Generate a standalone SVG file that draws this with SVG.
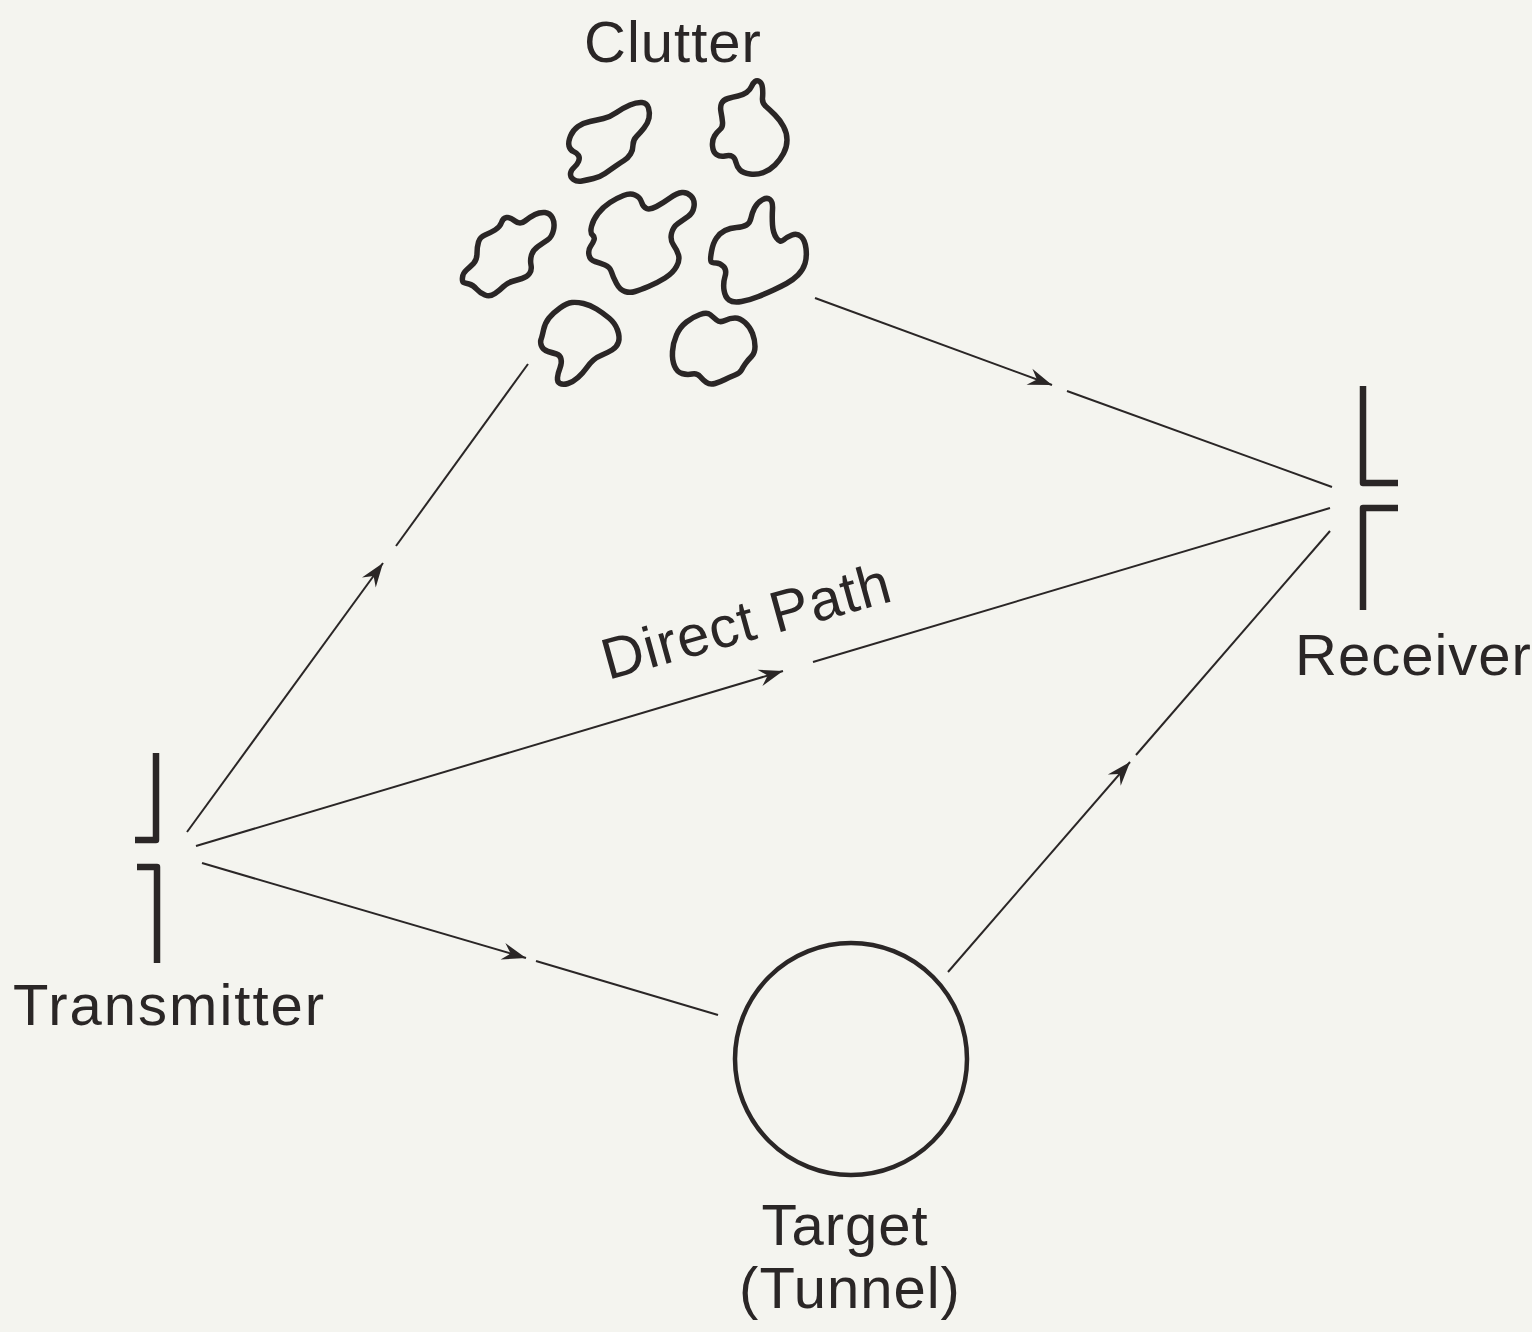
<svg xmlns="http://www.w3.org/2000/svg" width="1532" height="1332" viewBox="0 0 1532 1332">
  <style>
    .ink { stroke: #2a2626; fill: none; }
    .ray { stroke: #2a2626; stroke-width: 2; fill: none; }
    .ant { stroke: #2a2626; stroke-width: 6.5; fill: none; stroke-linejoin: round; }
    .blob { stroke: #2a2626; stroke-width: 5.5; fill: none; stroke-linejoin: round; }
    .lbl { font-family: "Liberation Sans", Arial, sans-serif; font-size: 58px; fill: #2a2626; letter-spacing: 1px; }
  </style>
  <defs>
    <marker id="arr" viewBox="-26 -10 28 20" refX="0" refY="0" markerWidth="28" markerHeight="20" orient="auto" markerUnits="userSpaceOnUse">
      <path d="M0,0 L-24,-8.5 L-16,0 L-24,8.5 Z" fill="#2a2626"/>
    </marker>
  </defs>
  <rect width="1532" height="1332" fill="#f4f4ef"/>

  <!-- signal paths -->
  <g id="connectors">
    <line class="ray" x1="187" y1="832" x2="383" y2="563" marker-end="url(#arr)"/>
    <line class="ray" x1="396" y1="546" x2="528" y2="364"/>
    <line class="ray" x1="196" y1="846" x2="783" y2="671" marker-end="url(#arr)"/>
    <line class="ray" x1="813" y1="662" x2="1330" y2="508"/>
    <line class="ray" x1="202" y1="863" x2="526" y2="958" marker-end="url(#arr)"/>
    <line class="ray" x1="536" y1="961" x2="718" y2="1015"/>
    <line class="ray" x1="815" y1="298" x2="1052" y2="385" marker-end="url(#arr)"/>
    <line class="ray" x1="1067" y1="391" x2="1332" y2="487"/>
    <line class="ray" x1="948" y1="972" x2="1130" y2="762" marker-end="url(#arr)"/>
    <line class="ray" x1="1136" y1="755" x2="1330" y2="531"/>
  </g>

  <!-- transmitting antenna -->
  <g id="transmitter">
    <path class="ant" d="M156,753 L156,840 L135,840"/>
    <path class="ant" d="M137,867 L157,867 L157,963"/>
    <text class="lbl" x="13" y="1025" style="letter-spacing:2px">Transmitter</text>
  </g>

  <!-- receiving antenna -->
  <g id="receiver">
    <path class="ant" d="M1363,386 L1363,483 L1398,483"/>
    <path class="ant" d="M1398,508 L1363,508 L1363,610"/>
    <text class="lbl" x="1295" y="675">Receiver</text>
  </g>

  <!-- clutter scatterers -->
  <g id="clutter">
    <path class="blob" d="M569,146 Q568,142 570.5,136 Q573,130 578,126.5 Q583,123 590,121.5 Q597,120 603.5,118.5 Q610,117 616.5,112.5 Q623,108 630,105 Q637,102 642,102.5 Q647,103 648.5,108 Q650,113 649,118 Q648,123 644,128 Q640,133 636.5,136.5 Q633,140 633,145 Q633,150 630.5,154 Q628,158 624,160.5 Q620,163 615,166.5 Q610,170 605,173.5 Q600,177 593.5,178.5 Q587,180 582,181 Q577,182 573.5,179.5 Q570,177 570.5,173.5 Q571,170 574,167.5 Q577,165 578.5,161.5 Q580,158 578.5,155.5 Q577,153 573.5,151.5 Q570,150 569,146 Z"/>
    <path class="blob" d="M755,81.5 Q757,80 759.5,81.5 Q762,83 762.5,88 Q763,93 762.5,98 Q762,103 766,106.5 Q770,110 775,115 Q780,120 783.5,126.5 Q787,133 787,140 Q787,147 783.5,153.5 Q780,160 775,165 Q770,170 763.5,172.5 Q757,175 750,174 Q743,173 740,170 Q737,167 736,162.5 Q735,158 732.5,156.5 Q730,155 725,156 Q720,157 716.5,154.5 Q713,152 712.5,146 Q712,140 714.5,136 Q717,132 720,129.5 Q723,127 722.5,122 Q722,117 721,112 Q720,107 721.5,103.5 Q723,100 728,98.5 Q733,97 738,96 Q743,95 746.5,92.5 Q750,90 751.5,86.5 Q753,83 755,81.5 Z"/>
    <path class="blob" d="M463.5,282.5 Q462,282 462.5,277.5 Q463,273 466.5,270 Q470,267 473.5,263.5 Q477,260 477,253.5 Q477,247 478.5,242 Q480,237 485,235 Q490,233 495,230 Q500,227 501.5,222.5 Q503,218 506.5,217.5 Q510,217 515,221 Q520,225 525,221 Q530,217 535,214.5 Q540,212 545,212.5 Q550,213 552.5,218 Q555,223 553.5,230 Q552,237 547.5,240 Q543,243 538,246.5 Q533,250 531.5,255 Q530,260 531,265 Q532,270 529.5,273.5 Q527,277 522,278.5 Q517,280 512,281.5 Q507,283 503.5,286.5 Q500,290 495,293.5 Q490,297 485,295 Q480,293 476.5,289 Q473,285 469,284 Q465,283 463.5,282.5 Z"/>
    <path class="blob" d="M592.5,235 Q590,233 591.5,226.5 Q593,220 598,213.5 Q603,207 610,202.5 Q617,198 623.5,195.5 Q630,193 635,195 Q640,197 641.5,202 Q643,207 646.5,208.5 Q650,210 656.5,206.5 Q663,203 670,198 Q677,193 682,192.5 Q687,192 691,196 Q695,200 694,206.5 Q693,213 688,216.5 Q683,220 678,223.5 Q673,227 671.5,233.5 Q670,240 673.5,245 Q677,250 678.5,255 Q680,260 676.5,266.5 Q673,273 665,278 Q657,283 648.5,286.5 Q640,290 635,291.5 Q630,293 625,291.5 Q620,290 616.5,283.5 Q613,277 611.5,272 Q610,267 605,265 Q600,263 595,261.5 Q590,260 589,255 Q588,250 590.5,246.5 Q593,243 594,240 Q595,237 592.5,235 Z"/>
    <path class="blob" d="M711,261.5 Q710,260 711.5,251.5 Q713,243 716.5,238 Q720,233 725,230.5 Q730,228 736.5,227.5 Q743,227 746.5,225 Q750,223 751,218 Q752,213 754.5,208 Q757,203 762,200 Q767,197 770,199.5 Q773,202 772.5,209.5 Q772,217 772.5,225 Q773,233 776.5,238 Q780,243 783.5,240 Q787,237 792,235 Q797,233 801,236.5 Q805,240 806,248.5 Q807,257 805,263.5 Q803,270 798,275 Q793,280 786.5,283.5 Q780,287 773.5,290 Q767,293 758.5,296.5 Q750,300 741.5,301.5 Q733,303 729,300 Q725,297 724,290 Q723,283 725,276.5 Q727,270 723.5,266.5 Q720,263 716,263 Q712,263 711,261.5 Z"/>
    <path class="blob" d="M541,339.5 Q542,337 543.5,330 Q545,323 549,318 Q553,313 560,308 Q567,303 572,302.5 Q577,302 583.5,303.5 Q590,305 596.5,309 Q603,313 609,318 Q615,323 617.5,330 Q620,337 618.5,342 Q617,347 612,350 Q607,353 602,355 Q597,357 593.5,360 Q590,363 586.5,368 Q583,373 578,377.5 Q573,382 568,383.5 Q563,385 560,383.5 Q557,382 557.5,377.5 Q558,373 560,368 Q562,363 561,359 Q560,355 556.5,354 Q553,353 548,351.5 Q543,350 541.5,346 Q540,342 541,339.5 Z"/>
    <path class="blob" d="M674.5,366 Q672,360 672.5,351.5 Q673,343 676.5,335 Q680,327 686.5,322 Q693,317 700,314.5 Q707,312 710,314.5 Q713,317 716.5,320 Q720,323 725,320.5 Q730,318 735,318 Q740,318 745,322.5 Q750,327 752.5,333.5 Q755,340 755,346.5 Q755,353 751.5,356.5 Q748,360 745.5,363.5 Q743,367 741.5,370 Q740,373 735,375 Q730,377 725,379.5 Q720,382 715,383.5 Q710,385 706.5,382.5 Q703,380 700,376.5 Q697,373 692,374 Q687,375 682,373.5 Q677,372 674.5,366 Z"/>
    <text class="lbl" x="673" y="62" text-anchor="middle">Clutter</text>
  </g>

  <!-- target -->
  <g id="target">
    <circle class="ink" cx="851" cy="1059" r="116" stroke-width="4.5"/>
    <text class="lbl" x="845" y="1245" text-anchor="middle">Target</text>
    <text class="lbl" x="850" y="1308" text-anchor="middle">(Tunnel)</text>
  </g>

  <!-- direct path label -->
  <g id="direct-path-label">
    <text class="lbl" x="608" y="680" transform="rotate(-15.5 608 680)">Direct Path</text>
  </g>
</svg>
